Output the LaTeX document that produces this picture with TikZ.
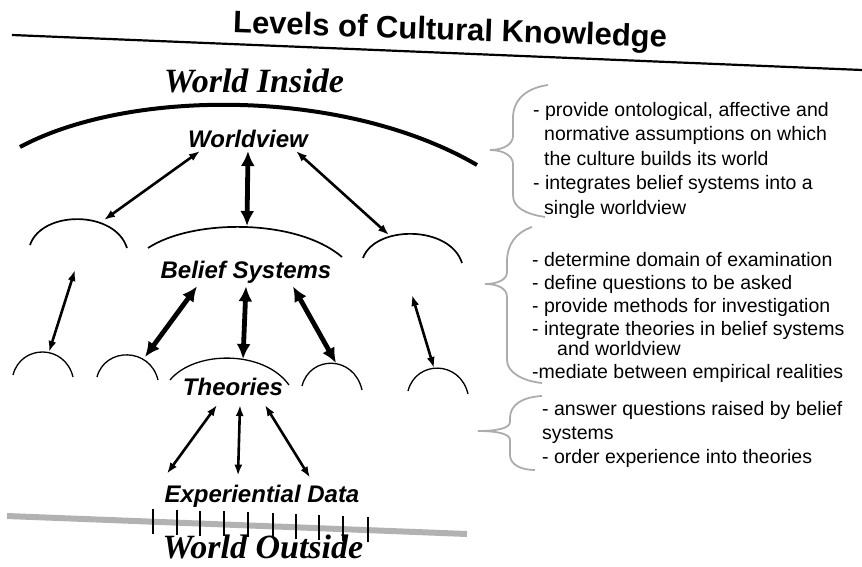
\documentclass[tikz,border=0pt]{standalone}
\usepackage{fontspec}
\setmainfont{Liberation Sans}
\newfontfamily\handfont{Liberation Serif}
\usetikzlibrary{arrows.meta}

\begin{document}
\begin{tikzpicture}[
    x=1pt, y=-1pt,
    level/.style={font=\bfseries\itshape\fontsize{24}{28}\selectfont, inner sep=3pt},
    hand/.style={font=\handfont\bfseries\itshape\fontsize{34}{38}\selectfont, inner sep=0pt},
    note/.style={font=\fontsize{19.5}{24.5}\selectfont, align=left, anchor=north west, inner sep=0pt},
    beliefarc/.style={line width=1.7pt},
    theoryarc/.style={line width=1.3pt},
    link/.style={{Latex[length=11pt,width=8pt]}-{Latex[length=11pt,width=8pt]}, line width=2.6pt},
    heavy/.style={{Latex[length=15pt,width=14pt]}-{Latex[length=15pt,width=14pt]}, line width=4.8pt},
    bracket/.style={draw=gray!65, line width=1.8pt},
]
\useasboundingbox (0,0) rectangle (862,567);

% title and rule
\node[font=\bfseries\fontsize{31}{36}\selectfont, rotate=-2] (title) at (450,32) {Levels of Cultural Knowledge};
\draw[line width=2.2pt] (12,35) -- (862,70);

\node[hand] (inside) at (254,81) {World Inside};

% worldview
\draw[line width=4pt] (20,147) .. controls (130,88) and (345,88) .. (477,165);
\node[level] (wv) at (248,139) {Worldview};

% belief systems
\draw[beliefarc] (30,245) .. controls +(12,-35) and +(-12,-38) .. (127,248);
\draw[beliefarc] (148,248) .. controls +(45,-29.5) and +(-45,-38.5) .. (342,257);
\draw[beliefarc] (363,258) .. controls +(12,-33) and +(-12,-38) .. (462,263);
\coordinate (bsl) at (104,220);
\coordinate (bsm) at (247,226);
\coordinate (bsr) at (389,235);
\node[level] (bs) at (246,272) {Belief Systems};

% theories
\draw[theoryarc] (13,375) .. controls +(8,-31) and +(-8,-33) .. (73,377);
\draw[theoryarc] (97,377) .. controls +(8,-30) and +(-8,-33) .. (158,380);
\draw[theoryarc] (170,380) .. controls +(25,-30) and +(-25,-35) .. (289,385);
\draw[theoryarc] (302,386) .. controls +(8,-31) and +(-8,-35) .. (362,390);
\draw[theoryarc] (408,391) .. controls +(8,-31) and +(-8,-34) .. (468,394);
\coordinate (ta) at (75,270);
\coordinate (te) at (412,295);
\coordinate (ba) at (49,352);
\coordinate (tb) at (145,357);
\coordinate (tc) at (243,359);
\coordinate (td) at (336,363);
\coordinate (be) at (434,368);
\node[level] (th) at (233,387) {Theories};

\node[level] (ed) at (262,496) {Experiential Data};

% links
\draw[link] ([xshift=-48pt]wv.south) -- (bsl);
\draw[heavy] (wv.south) -- (bsm);
\draw[link] ([xshift=48pt]wv.south) -- (bsr);
\draw[link] (ta) -- (ba);
\draw[heavy] ([xshift=-49pt]bs.south) -- (tb);
\draw[heavy] (bs.south) -- (tc);
\draw[heavy] ([xshift=47pt]bs.south) -- (td);
\draw[link] (te) -- (be);
\draw[link] ([xshift=-16pt,yshift=-6pt]th.south) -- ([xshift=-95pt,yshift=8pt]ed.north);
\draw[link] ([xshift=7pt,yshift=-6pt]th.south) -- ([xshift=-24pt,yshift=6pt]ed.north);
\draw[link] ([xshift=32pt,yshift=-6pt]th.south) -- ([xshift=48pt,yshift=4pt]ed.north);

% world outside
\draw[gray!60, line width=6pt] (7,516) -- (467,534);
\foreach \tx in {153,177,200,224,248,273,296,319,343,368}{
  \pgfmathsetmacro\ty{516+(\tx-7)*18/460}
  \draw[line width=2.5pt] (\tx,\ty-13) -- (\tx,\ty+12);
}
\node[hand] (outside) at (263,547) {World Outside};

% notes
\node[note] (n1) at (533,102) {- provide ontological, affective and\\
\hspace*{11pt}normative assumptions on which\\
\hspace*{11pt}the culture builds its world\\
- integrates belief systems into a\\
\hspace*{11pt}single worldview};
\draw[bracket] (548,85) .. controls (526,88) and (513,100) .. (513,118) -- (513,136)
  .. controls (513,145) and (502,150) .. (490,150) .. controls (502,150) and (513,155) .. (513,164)
  -- (513,195) .. controls (513,208) and (526,214) .. (545,217);

\node[note, font=\fontsize{19.5}{23}\selectfont] (n2) at (532,252) {- determine domain of examination\\
- define questions to be asked\\
- provide methods for investigation\\
- integrate theories in belief systems\\[-3pt]
\hspace*{25pt}and worldview\\
-mediate between empirical realities};
\draw[bracket] (532,227) .. controls (515,233) and (507,245) .. (507,262) -- (507,272)
  .. controls (507,280) and (497,284) .. (485,284) .. controls (497,284) and (507,288) .. (507,297)
  -- (507,360) .. controls (507,372) and (522,381) .. (542,383);

\node[note, font=\fontsize{19.5}{24}\selectfont] (n3) at (542,401) {- answer questions raised by belief\\
systems\\
- order experience into theories};
\draw[bracket] (542,396) .. controls (522,397) and (510,405) .. (510,418) -- (510,422)
  .. controls (510,428) and (498,431) .. (478,431) .. controls (498,431) and (510,434) .. (510,440)
  -- (510,455) .. controls (510,464) and (520,470) .. (535,470);
\end{tikzpicture}
\end{document}
